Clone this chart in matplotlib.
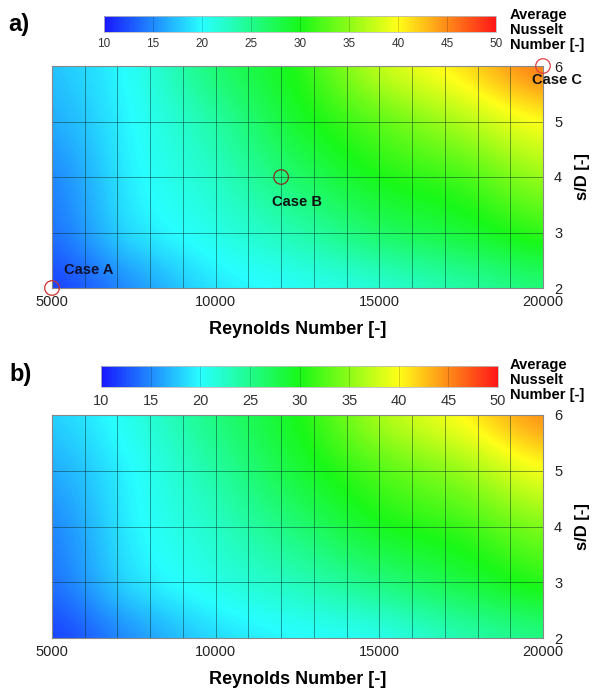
import numpy as np
import matplotlib
matplotlib.use("Agg")
import matplotlib.pyplot as plt
from matplotlib.colors import LinearSegmentedColormap, Normalize
from matplotlib.cm import ScalarMappable

plt.rcParams['font.family'] = ['Liberation Sans', 'DejaVu Sans']

# Grid nodes of the parametric study
reynolds = [5000, 7500, 10000, 12500, 15000, 17500, 20000]
s_over_d = [2, 3, 4, 5, 6]

# Average Nusselt number, one row per s/D (from s/D = 2 upwards)
nu_a = [
    [12.0, 15.5, 19.0, 20.5, 22.0, 24.0, 26.0],
    [14.0, 18.5, 21.0, 23.5, 26.5, 28.5, 31.0],
    [15.0, 19.5, 22.5, 26.5, 30.0, 32.0, 35.5],
    [16.5, 20.0, 24.0, 29.0, 33.0, 36.5, 40.0],
    [17.5, 20.5, 26.0, 30.5, 37.0, 41.0, 45.5],
]
nu_b = [
    [12.0, 15.5, 18.5, 20.0, 21.0, 23.5, 25.5],
    [14.0, 18.5, 21.0, 23.0, 25.5, 28.0, 30.5],
    [15.0, 19.5, 22.5, 26.0, 29.5, 31.5, 34.5],
    [16.5, 20.0, 24.0, 28.5, 32.5, 35.5, 39.5],
    [18.0, 21.0, 25.5, 30.0, 36.0, 40.0, 44.5],
]

# Highlighted cases
case_re = [5000, 12000, 20000]
case_sd = [2, 4, 6]
case_names = ["Case A", "Case B", "Case C"]

cbar_ticks = [10, 15, 20, 25, 30, 35, 40, 45, 50]
re_ticks = [5000, 10000, 15000, 20000]
sd_ticks = [2, 3, 4, 5, 6]

W, H = 593, 691
fig = plt.figure(figsize=(W / 100, H / 100), dpi=100)


def rect(x0, y0, x1, y1):
    return [x0 / W, 1 - y1 / H, (x1 - x0) / W, (y1 - y0) / H]


def fpos(x, y):
    return x / W, 1 - y / H


cmap = LinearSegmentedColormap.from_list(
    "rainbow5",
    [(0.0, "#1818ff"), (0.25, "#28ffff"), (0.5, "#18f818"),
     (0.75, "#ffff18"), (1.0, "#ff1818")])
norm = Normalize(10, 50)

dre = (reynolds[1] - reynolds[0]) / 2
dsd = (s_over_d[1] - s_over_d[0]) / 2


def draw_panel(ax_box, field, cbar_box, cbar_fs, cbar_pad, cbar_label_xy,
               tag, tag_xy, xlabel_y, with_cases):
    ax = fig.add_axes(rect(*ax_box))
    ax.imshow(np.array(field), origin="lower", cmap=cmap, norm=norm,
              extent=[reynolds[0] - dre, reynolds[-1] + dre,
                      s_over_d[0] - dsd, s_over_d[-1] + dsd],
              aspect="auto", interpolation="catrom",
              interpolation_stage="data")
    ax.set_xlim(5000, 20000)
    ax.set_ylim(2, 6)
    for r in range(6000, 20000, 1000):
        ax.axvline(r, color="#0a2a2a", lw=0.6, alpha=0.55)
    for s in (3, 4, 5):
        ax.axhline(s, color="#0a2a2a", lw=0.6, alpha=0.55)
    ax.set_xticks(re_ticks)
    ax.set_yticks(sd_ticks)
    ax.yaxis.tick_right()
    ax.tick_params(axis="both", length=0, labelsize=10.5, colors="#222222")
    ax.tick_params(axis="x", pad=5)
    ax.tick_params(axis="y", pad=8)
    for sp in ax.spines.values():
        sp.set_color("#888888")
        sp.set_linewidth(0.8)

    x0, y0, x1, y1 = ax_box
    fig.text(*fpos((x0 + x1) / 2, xlabel_y), "Reynolds Number [-]",
             ha="center", va="center", fontsize=13, fontweight="bold")
    fig.text(*fpos(583, (y0 + y1) / 2), "s/D [-]", rotation=90,
             ha="center", va="center", fontsize=12, fontweight="bold")
    fig.text(*fpos(*tag_xy), tag, ha="left", va="center", fontsize=17,
             fontweight="bold")

    if with_cases:
        ax.scatter(case_re, case_sd, s=110, facecolors="none",
                   edgecolors=["#d03030", "#8a2a20", "#e04040"],
                   linewidths=0.9, clip_on=False, zorder=5)
        ax.text(5370, 2.33, case_names[0], fontsize=10.5, fontweight="bold",
                color="#111133", ha="left", va="center")
        ax.text(12480, 3.55, case_names[1], fontsize=10.5, fontweight="bold",
                color="#111111", ha="center", va="center")
        ax.text(19650, 5.74, case_names[2], fontsize=10.5, fontweight="bold",
                color="#111111", ha="left", va="center", clip_on=False)

    cax = fig.add_axes(rect(*cbar_box))
    cb = fig.colorbar(ScalarMappable(norm=norm, cmap=cmap), cax=cax,
                      orientation="horizontal", ticks=cbar_ticks)
    cb.outline.set_edgecolor("#bbbbbb")
    cb.outline.set_linewidth(0.6)
    for t in cbar_ticks[1:-1]:
        cax.axvline(t, color="#000000", lw=0.5, alpha=0.25)
    cax.tick_params(length=0, labelsize=cbar_fs, pad=cbar_pad,
                    colors="#333333")
    fig.text(*fpos(*cbar_label_xy), "Average\nNusselt\nNumber [-]",
             ha="left", va="top", fontsize=10.5, fontweight="bold",
             linespacing=1.08)
    return ax


draw_panel((52, 66, 543, 288), nu_a, (104, 16, 496, 32), 8.5, 4, (510, 8),
           "a)", (8, 25), 330, True)
draw_panel((52, 415, 543, 638), nu_b, (101, 366, 498, 387), 10.5, 5,
           (510, 358), "b)", (9, 375), 679, False)

fig.savefig("out.png", dpi=100)
